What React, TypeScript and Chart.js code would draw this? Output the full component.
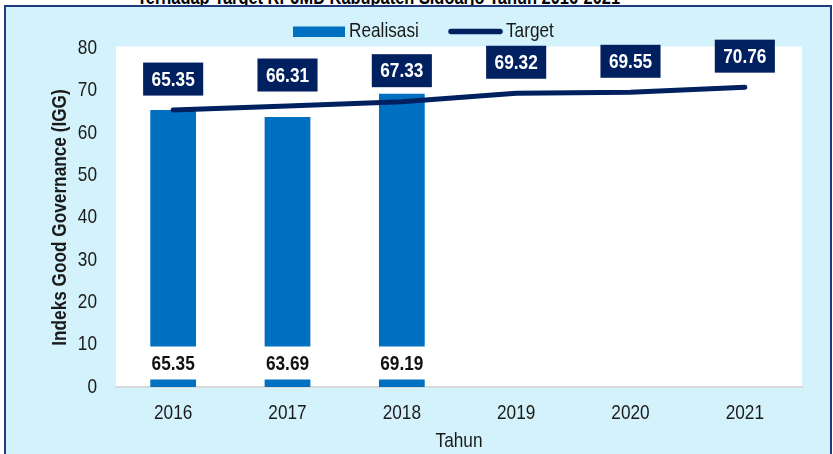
import { useEffect, useRef } from 'react';
import { Chart, registerables } from 'chart.js';

Chart.register(...registerables);

const years = ['2016', '2017', '2018', '2019', '2020', '2021'];
const realisasi: (number | null)[] = [65.35, 63.69, 69.19, null, null, null];
const target = [65.35, 66.31, 67.33, 69.32, 69.55, 70.76];
const yMin = 0;
const yMax = 80;
const yStep = 10;
const seriesNames = ['Realisasi', 'Target'];
const xTitle = 'Tahun';
const yTitle = 'Indeks Good Governance (IGG)';
const topTitle = 'Terhadap Target RPJMD Kabupaten Sidoarjo Tahun 2016-2021';

const FONT = "'Liberation Sans', Arial, sans-serif";
const SX = 0.82; // horizontal condensing to mimic Arial Narrow
const BAR = '#0070C0';
const NAVY = '#002060';
const TXT = '#1a1a1a';

const plotBg = {
  id: 'plotBg',
  beforeDraw(chart: any) {
    const { ctx, chartArea: a } = chart;
    ctx.save();
    ctx.fillStyle = '#ffffff';
    ctx.fillRect(a.left, a.top - 1.5, a.right - a.left, a.bottom - a.top + 1.5);
    ctx.restore();
  },
};

const customLegend = {
  id: 'customLegend',
  afterDraw(chart: any) {
    const { ctx } = chart;
    ctx.save();
    ctx.font = `21px ${FONT}`;
    ctx.textBaseline = 'middle';
    ctx.textAlign = 'left';
    const y = 31.5;
    ctx.fillStyle = BAR;
    ctx.fillRect(293, 26.5, 52, 10.5);
    ctx.fillStyle = TXT;
    ctx.fillText(seriesNames[0], 349, y);
    ctx.strokeStyle = NAVY;
    ctx.lineWidth = 5.5;
    ctx.lineCap = 'round';
    ctx.beginPath();
    ctx.moveTo(451, y);
    ctx.lineTo(500, y);
    ctx.stroke();
    ctx.fillStyle = TXT;
    ctx.fillText(seriesNames[1], 506, y);
    ctx.restore();
  },
};

const valueLabels = {
  id: 'valueLabels',
  afterDatasetsDraw(chart: any) {
    const { ctx } = chart;
    const yScale = chart.scales.y;
    const y0 = yScale.getPixelForValue(0);
    ctx.save();
    ctx.font = `bold 21px ${FONT}`;
    ctx.textAlign = 'center';
    ctx.textBaseline = 'middle';
    const barMeta = chart.getDatasetMeta(0);
    barMeta.data.forEach((el: any, i: number) => {
      const v = realisasi[i];
      if (v == null) return;
      const txt = v.toFixed(2);
      const tw = ctx.measureText(txt).width * SX;
      const w = Math.max(tw + 8, el.width + 4);
      const cy = y0 - 24;
      ctx.fillStyle = '#ffffff';
      ctx.fillRect(el.x - w / 2, cy - 16.5, w, 33);
      ctx.fillStyle = '#111111';
      ctx.fillText(txt, el.x, cy + 1);
    });
    const lineMeta = chart.getDatasetMeta(1);
    lineMeta.data.forEach((el: any, i: number) => {
      const txt = target[i].toFixed(2);
      const tw = ctx.measureText(txt).width * SX;
      const w = tw + 17;
      const cy = el.y - 31;
      ctx.fillStyle = NAVY;
      ctx.fillRect(el.x - w / 2, cy - 16.5, w, 33);
      ctx.fillStyle = '#ffffff';
      ctx.fillText(txt, el.x, cy + 1);
    });
    ctx.restore();
  },
};

function condenseText(ctx: CanvasRenderingContext2D) {
  const anyCtx = ctx as any;
  if (anyCtx.__condensed) return;
  anyCtx.__condensed = true;
  const orig = ctx.fillText.bind(ctx);
  anyCtx.fillText = (t: string, x: number, y: number, mw?: number) => {
    ctx.save();
    ctx.translate(x, y);
    ctx.scale(SX, 1);
    if (mw !== undefined) orig(t, 0, 0, mw / SX);
    else orig(t, 0, 0);
    ctx.restore();
  };
}

export default function App() {
  const ref = useRef<HTMLCanvasElement | null>(null);

  useEffect(() => {
    document.body.style.margin = '0';
    const canvas = ref.current;
    if (!canvas) return;
    const c2d = canvas.getContext('2d');
    if (c2d) condenseText(c2d);
    const chart = new Chart(canvas, {
      type: 'bar',
      data: {
        labels: years,
        datasets: [
          {
            type: 'bar',
            label: seriesNames[0],
            data: realisasi,
            backgroundColor: BAR,
            borderWidth: 0,
            barPercentage: 0.5,
            categoryPercentage: 0.8,
            order: 2,
          },
          {
            type: 'line',
            label: seriesNames[1],
            data: target,
            borderColor: NAVY,
            backgroundColor: NAVY,
            borderWidth: 5,
            borderCapStyle: 'round',
            borderJoinStyle: 'round',
            pointRadius: 0,
            pointHoverRadius: 0,
            tension: 0,
            fill: false,
            order: 1,
          },
        ] as any,
      },
      options: {
        animation: false,
        responsive: false,
        maintainAspectRatio: false,
        layout: { padding: { left: 48, right: 31, top: 48, bottom: 0 } },
        plugins: {
          legend: { display: false },
          tooltip: { enabled: false },
          title: { display: false },
        },
        scales: {
          x: {
            grid: { display: false, drawTicks: false },
            border: { display: true, color: '#D9D9D9', width: 2 },
            ticks: {
              font: { family: FONT, size: 21 },
              color: TXT,
              padding: 14,
              autoSkip: false,
              maxRotation: 0,
            },
            title: {
              display: true,
              text: xTitle,
              font: { family: FONT, size: 21 },
              color: TXT,
              padding: { top: 0, bottom: 0 },
            },
            afterFit(scale: any) {
              scale.height = 454 - 387;
            },
          },
          y: {
            min: yMin,
            max: yMax,
            grid: { display: false, drawTicks: false },
            border: { display: false },
            ticks: {
              stepSize: yStep,
              font: { family: FONT, size: 21 },
              color: TXT,
              padding: 19,
            },
            title: {
              display: true,
              text: yTitle,
              font: { family: FONT, size: 21, weight: 'bold' },
              color: TXT,
              padding: { top: 0, bottom: 0 },
            },
            afterFit(scale: any) {
              scale.width = 116 - 48;
            },
          },
        },
      },
      plugins: [plotBg, valueLabels, customLegend],
    });
    return () => chart.destroy();
  }, []);

  return (
    <div style={{ position: 'relative', width: 833, height: 454, overflow: 'hidden', background: '#ffffff' }}>
      <div
        style={{
          position: 'absolute',
          left: 0,
          top: 0,
          width: 833,
          height: 6,
          overflow: 'hidden',
        }}
      >
        <div
          style={{
            position: 'absolute',
            left: 137,
            top: -13,
            whiteSpace: 'nowrap',
            font: `bold 20px ${FONT}`,
            color: '#000',
            lineHeight: '20px',
            transform: `scaleX(${SX})`,
            transformOrigin: 'left top',
          }}
        >
          {topTitle}
        </div>
      </div>
      <div
        style={{
          position: 'absolute',
          left: 4,
          top: 5,
          width: 828,
          height: 470,
          boxSizing: 'border-box',
          border: '2px solid #1F3B7B',
          background: '#D3F2FB',
        }}
      />
      <canvas
        ref={ref}
        width={833}
        height={454}
        style={{ position: 'absolute', left: 0, top: 0, width: 833, height: 454 }}
      />
    </div>
  );
}
